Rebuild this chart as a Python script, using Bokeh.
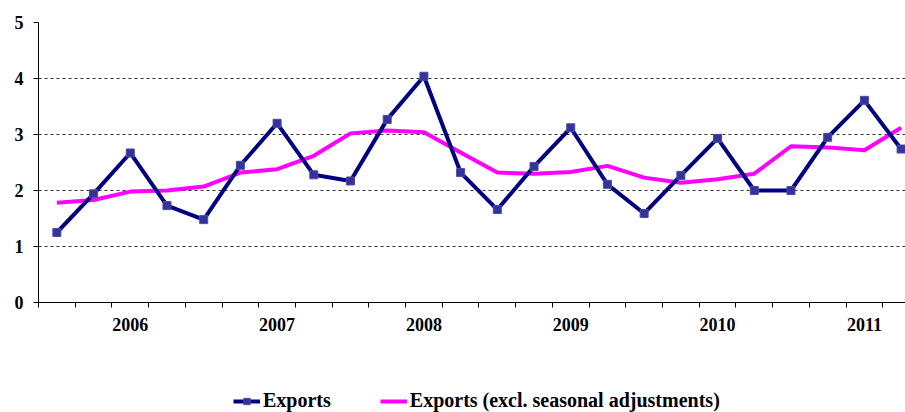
from bokeh.plotting import figure
from bokeh.layouts import column
from bokeh.models import (ColumnDataSource, Range1d, FixedTicker, Legend, LegendItem)
from bokeh.embed import file_html
from bokeh.resources import INLINE

# ---- data ----
exports = [1.25, 1.94, 2.67, 1.73, 1.48, 2.45, 3.20, 2.28, 2.17, 3.27, 4.04, 2.32,
           1.66, 2.43, 3.12, 2.11, 1.59, 2.27, 2.93, 2.00, 2.00, 2.95, 3.61, 2.74]
exports_sa = [1.78, 1.83, 1.98, 2.00, 2.07, 2.32, 2.38, 2.62, 3.02, 3.07, 3.04, 2.68,
              2.32, 2.30, 2.33, 2.44, 2.23, 2.14, 2.20, 2.30, 2.79, 2.77, 2.72, 3.12]
year_labels = ["2006", "2007", "2008", "2009", "2010", "2011"]
year_index = [2, 6, 10, 14, 18, 22]          # quarter index under which each year label sits
y_ticks = [0, 1, 2, 3, 4, 5]
series_names = ["Exports", "Exports (excl. seasonal adjustments)"]

n = len(exports)
src = ColumnDataSource(dict(x=list(range(n)), exp=exports, sa=exports_sa))

FONT = "Liberation Serif"
NAVY = "#000080"
MARK = "#333399"
PINK = "#FF00FF"

p = figure(width=905, height=380, output_backend="svg", toolbar_location=None,
           x_range=Range1d(-0.5, 23.12), y_range=Range1d(0, 5),
           min_border_left=38, min_border_right=0, min_border_top=22,
           min_border_bottom=78)
p.outline_line_color = None

# grid
p.xgrid.visible = False
p.ygrid.ticker = FixedTicker(ticks=y_ticks)
p.ygrid.grid_line_color = "#333333"
p.ygrid.grid_line_dash = "3 3"
p.ygrid.grid_line_width = 1

# y axis
p.yaxis.ticker = FixedTicker(ticks=y_ticks)
p.yaxis.axis_line_color = "black"
p.yaxis.major_tick_out = 5
p.yaxis.major_tick_in = 0
p.yaxis.minor_tick_line_color = None
p.yaxis.major_label_standoff = 10
p.yaxis.major_label_text_font = FONT
p.yaxis.major_label_text_font_style = "bold"
p.yaxis.major_label_text_font_size = "18px"
p.yaxis.major_label_text_color = "black"

# x axis: tick marks at quarter boundaries, year labels in between
boundaries = [i - 0.5 for i in range(n + 1)]
p.xaxis.ticker = FixedTicker(ticks=year_index, minor_ticks=boundaries)
p.xaxis.major_label_overrides = {i: s for i, s in zip(year_index, year_labels)}
p.xaxis.axis_line_color = "black"
p.xaxis.major_tick_out = 0
p.xaxis.major_tick_in = 0
p.xaxis.minor_tick_out = 5
p.xaxis.minor_tick_in = 0
p.xaxis.minor_tick_line_color = "black"
p.xaxis.major_label_standoff = 10
p.xaxis.major_label_text_font = FONT
p.xaxis.major_label_text_font_style = "bold"
p.xaxis.major_label_text_font_size = "18px"
p.xaxis.major_label_text_color = "black"

# series
p.line("x", "sa", source=src, line_color=PINK, line_width=4)
p.line("x", "exp", source=src, line_color=NAVY, line_width=4)
p.scatter("x", "exp", source=src, marker="square", size=8,
          fill_color=MARK, line_color="#4b4ba8", line_width=1)

# ---- legend strip below the chart ----
lg = figure(width=905, height=32, output_backend="svg", toolbar_location=None,
            x_range=Range1d(0, 1), y_range=Range1d(0, 1),
            min_border_left=0, min_border_right=0, min_border_top=0, min_border_bottom=0)
lg.axis.visible = False
lg.grid.visible = False
lg.outline_line_color = None
# proxy renderers placed outside the visible range, used only for legend swatches
proxy = ColumnDataSource(dict(x=[10, 11], y=[10, 11]))
l1 = lg.line("x", "y", source=proxy, line_color=NAVY, line_width=4)
m1 = lg.scatter("x", "y", source=proxy, marker="square", size=8,
                fill_color=MARK, line_color="#4b4ba8", line_width=1)
l2 = lg.line("x", "y", source=proxy, line_color=PINK, line_width=4)

legend = Legend(items=[LegendItem(label=series_names[0], renderers=[l1, m1]),
                       LegendItem(label=series_names[1], renderers=[l2])],
                orientation="horizontal", location=(195, 0),
                padding=0, margin=0, spacing=49,
                glyph_width=27, glyph_height=16, label_standoff=3,
                label_text_font=FONT, label_text_font_style="bold",
                label_text_font_size="20px", label_text_color="black",
                border_line_color=None, background_fill_alpha=0)
lg.add_layout(legend)

layout = column(p, lg, spacing=0)
open("out.html", "w").write(file_html(layout, INLINE))
